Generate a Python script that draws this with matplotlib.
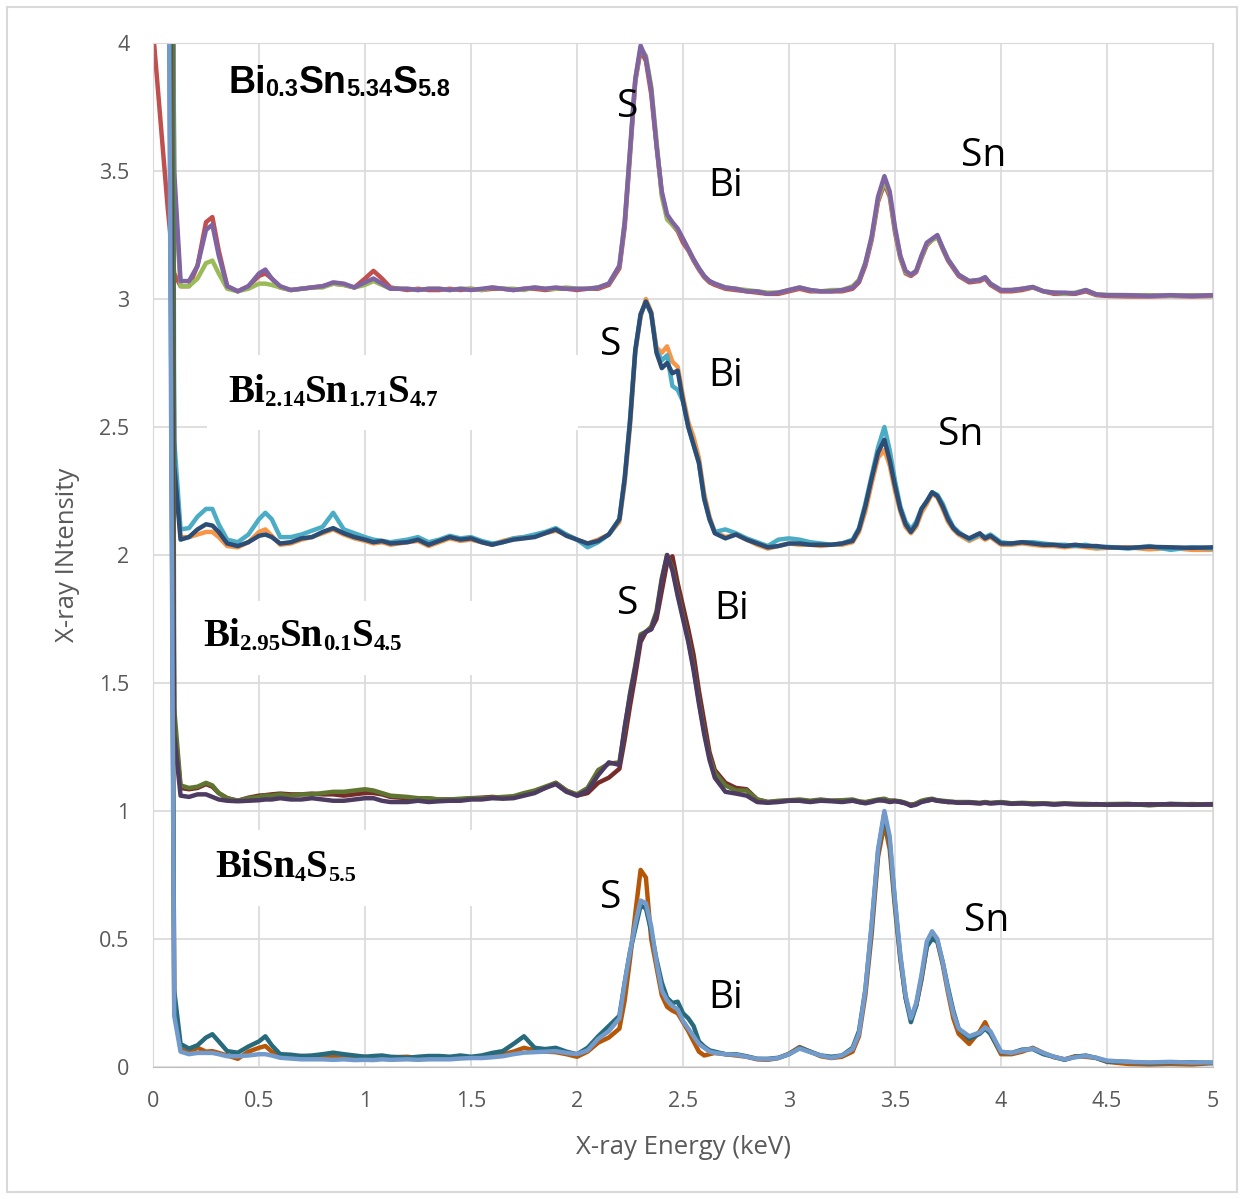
import matplotlib
matplotlib.use('Agg')
import matplotlib.pyplot as plt
from matplotlib.patches import Rectangle
from matplotlib.ticker import FormatStrFormatter
import numpy as np

# energy axis shared by all twelve spectra (keV)
energy = [0.0, 0.07, 0.1, 0.13, 0.17, 0.21, 0.25, 0.28, 0.31, 0.35,
          0.4, 0.45, 0.5, 0.53, 0.56, 0.6, 0.65, 0.7, 0.75, 0.8,
          0.85, 0.9, 0.95, 1.0, 1.04, 1.08, 1.12, 1.2, 1.25, 1.3,
          1.35, 1.4, 1.45, 1.5, 1.55, 1.6, 1.65, 1.7, 1.75, 1.8,
          1.85, 1.9, 1.95, 2.0, 2.05, 2.1, 2.15, 2.2, 2.225, 2.25,
          2.275, 2.3, 2.325, 2.35, 2.375, 2.4, 2.425, 2.45, 2.475, 2.5,
          2.525, 2.55, 2.575, 2.6, 2.625, 2.65, 2.7, 2.75, 2.8, 2.85,
          2.9, 2.95, 3.0, 3.05, 3.1, 3.15, 3.2, 3.25, 3.3, 3.33,
          3.36, 3.39, 3.42, 3.45, 3.475, 3.5, 3.525, 3.55, 3.575, 3.6,
          3.625, 3.65, 3.675, 3.7, 3.725, 3.75, 3.775, 3.8, 3.85, 3.9,
          3.925, 3.95, 4.0, 4.05, 4.1, 4.15, 4.2, 4.25, 4.3, 4.35,
          4.4, 4.45, 4.5, 4.6, 4.7, 4.8, 4.9, 5.0]

# Bi0.3Sn5.34S5.8 (offset +3)
bi03_1 = [4.05, 3.35, 3.1, 3.05, 3.05, 3.13, 3.30, 3.32, 3.19, 3.05,
          3.03, 3.05, 3.09, 3.10, 3.08, 3.045, 3.035, 3.04, 3.045, 3.05,
          3.06, 3.055, 3.045, 3.08, 3.11, 3.08, 3.045, 3.035, 3.04, 3.035,
          3.035, 3.04, 3.035, 3.04, 3.035, 3.04, 3.04, 3.035, 3.04, 3.04,
          3.035, 3.04, 3.04, 3.035, 3.04, 3.04, 3.055, 3.12, 3.28, 3.56,
          3.85, 3.97, 3.93, 3.80, 3.60, 3.41, 3.32, 3.29, 3.265, 3.22,
          3.19, 3.15, 3.115, 3.085, 3.065, 3.055, 3.04, 3.035, 3.03, 3.025,
          3.02, 3.02, 3.03, 3.04, 3.03, 3.03, 3.03, 3.03, 3.04, 3.065,
          3.13, 3.23, 3.38, 3.45, 3.40, 3.26, 3.16, 3.10, 3.09, 3.105,
          3.16, 3.21, 3.23, 3.245, 3.195, 3.15, 3.12, 3.09, 3.065, 3.07,
          3.08, 3.055, 3.03, 3.03, 3.035, 3.045, 3.03, 3.02, 3.02, 3.02,
          3.03, 3.015, 3.012, 3.01, 3.01, 3.012, 3.01, 3.012]
bi03_2 = [12, 9, 3.45, 3.05, 3.05, 3.08, 3.14, 3.15, 3.10, 3.04,
          3.03, 3.04, 3.06, 3.06, 3.055, 3.045, 3.035, 3.04, 3.045, 3.045,
          3.06, 3.055, 3.045, 3.055, 3.07, 3.055, 3.04, 3.04, 3.035, 3.04,
          3.04, 3.035, 3.04, 3.04, 3.035, 3.045, 3.04, 3.04, 3.035, 3.045,
          3.04, 3.04, 3.045, 3.04, 3.04, 3.045, 3.06, 3.13, 3.30, 3.58,
          3.86, 3.98, 3.95, 3.83, 3.62, 3.40, 3.31, 3.29, 3.27, 3.235,
          3.195, 3.155, 3.12, 3.09, 3.07, 3.06, 3.045, 3.04, 3.035, 3.03,
          3.025, 3.025, 3.035, 3.045, 3.035, 3.03, 3.035, 3.035, 3.05, 3.075,
          3.14, 3.24, 3.39, 3.46, 3.41, 3.27, 3.165, 3.105, 3.095, 3.11,
          3.165, 3.215, 3.23, 3.24, 3.20, 3.155, 3.125, 3.095, 3.07, 3.075,
          3.085, 3.06, 3.035, 3.035, 3.04, 3.047, 3.03, 3.025, 3.02, 3.025,
          3.035, 3.018, 3.016, 3.015, 3.015, 3.013, 3.015, 3.014]
bi03_3 = [12, 7, 3.5, 3.07, 3.07, 3.13, 3.27, 3.29, 3.17, 3.05,
          3.03, 3.05, 3.10, 3.115, 3.08, 3.05, 3.035, 3.04, 3.045, 3.05,
          3.065, 3.06, 3.045, 3.065, 3.08, 3.06, 3.04, 3.04, 3.035, 3.04,
          3.04, 3.035, 3.04, 3.035, 3.04, 3.045, 3.04, 3.035, 3.04, 3.045,
          3.04, 3.045, 3.04, 3.04, 3.04, 3.045, 3.06, 3.13, 3.30, 3.58,
          3.86, 3.99, 3.94, 3.82, 3.60, 3.42, 3.33, 3.30, 3.275, 3.235,
          3.195, 3.155, 3.12, 3.09, 3.07, 3.06, 3.045, 3.04, 3.03, 3.03,
          3.02, 3.025, 3.035, 3.045, 3.035, 3.03, 3.03, 3.035, 3.045, 3.07,
          3.14, 3.245, 3.40, 3.48, 3.42, 3.28, 3.17, 3.11, 3.095, 3.11,
          3.17, 3.22, 3.235, 3.25, 3.20, 3.155, 3.125, 3.095, 3.07, 3.075,
          3.085, 3.06, 3.035, 3.035, 3.04, 3.047, 3.03, 3.025, 3.025, 3.022,
          3.035, 3.018, 3.015, 3.015, 3.012, 3.015, 3.012, 3.015]

# Bi2.14Sn1.71S4.7 (offset +2)
bi214_1 = [12, 6, 2.4, 2.07, 2.07, 2.08, 2.09, 2.09, 2.07, 2.035,
           2.03, 2.05, 2.09, 2.10, 2.075, 2.04, 2.045, 2.06, 2.07, 2.085,
           2.10, 2.08, 2.065, 2.055, 2.045, 2.05, 2.04, 2.05, 2.055, 2.035,
           2.05, 2.065, 2.055, 2.06, 2.05, 2.04, 2.055, 2.065, 2.07, 2.075,
           2.085, 2.095, 2.08, 2.06, 2.045, 2.06, 2.08, 2.13, 2.28, 2.50,
           2.79, 2.93, 3.0, 2.95, 2.81, 2.79, 2.815, 2.755, 2.735, 2.62,
           2.52, 2.46, 2.38, 2.24, 2.15, 2.09, 2.07, 2.08, 2.06, 2.04,
           2.025, 2.035, 2.045, 2.04, 2.04, 2.035, 2.04, 2.04, 2.05, 2.09,
           2.17, 2.28, 2.38, 2.41, 2.35, 2.25, 2.17, 2.11, 2.085, 2.11,
           2.165, 2.20, 2.24, 2.225, 2.18, 2.13, 2.10, 2.08, 2.055, 2.075,
           2.06, 2.07, 2.04, 2.04, 2.045, 2.04, 2.035, 2.035, 2.03, 2.035,
           2.03, 2.025, 2.028, 2.03, 2.022, 2.028, 2.02, 2.02]
bi214_2 = [12, 12, 2.45, 2.10, 2.105, 2.15, 2.18, 2.18, 2.12, 2.06,
           2.05, 2.08, 2.14, 2.165, 2.14, 2.07, 2.07, 2.08, 2.095, 2.11,
           2.165, 2.10, 2.085, 2.07, 2.06, 2.055, 2.05, 2.06, 2.07, 2.05,
           2.06, 2.075, 2.065, 2.07, 2.055, 2.045, 2.05, 2.065, 2.07, 2.08,
           2.09, 2.105, 2.08, 2.06, 2.03, 2.05, 2.08, 2.14, 2.30, 2.53,
           2.80, 2.94, 2.99, 2.94, 2.80, 2.76, 2.78, 2.66, 2.645, 2.60,
           2.50, 2.43, 2.36, 2.22, 2.14, 2.09, 2.10, 2.085, 2.065, 2.05,
           2.035, 2.06, 2.065, 2.06, 2.05, 2.045, 2.04, 2.045, 2.06, 2.105,
           2.20, 2.31, 2.42, 2.50, 2.41, 2.29, 2.19, 2.13, 2.10, 2.13,
           2.18, 2.21, 2.245, 2.235, 2.20, 2.15, 2.11, 2.09, 2.06, 2.08,
           2.07, 2.08, 2.05, 2.045, 2.05, 2.05, 2.045, 2.04, 2.04, 2.035,
           2.04, 2.03, 2.032, 2.025, 2.035, 2.02, 2.03, 2.025]
bi214_3 = [12, 8, 2.35, 2.06, 2.07, 2.10, 2.12, 2.115, 2.09, 2.045,
           2.035, 2.05, 2.075, 2.08, 2.07, 2.045, 2.05, 2.065, 2.07, 2.09,
           2.105, 2.085, 2.07, 2.06, 2.05, 2.055, 2.045, 2.05, 2.06, 2.04,
           2.055, 2.07, 2.06, 2.065, 2.05, 2.04, 2.05, 2.06, 2.065, 2.07,
           2.085, 2.10, 2.075, 2.06, 2.045, 2.055, 2.08, 2.14, 2.30, 2.52,
           2.80, 2.94, 2.99, 2.945, 2.79, 2.73, 2.75, 2.71, 2.72, 2.60,
           2.50, 2.43, 2.36, 2.22, 2.14, 2.085, 2.065, 2.08, 2.06, 2.045,
           2.03, 2.035, 2.045, 2.045, 2.04, 2.04, 2.04, 2.045, 2.055, 2.10,
           2.19, 2.30, 2.40, 2.45, 2.37, 2.27, 2.18, 2.12, 2.09, 2.12,
           2.18, 2.21, 2.245, 2.23, 2.19, 2.14, 2.105, 2.085, 2.065, 2.085,
           2.065, 2.075, 2.045, 2.045, 2.05, 2.045, 2.04, 2.04, 2.035, 2.04,
           2.035, 2.035, 2.03, 2.028, 2.032, 2.03, 2.028, 2.03]

# Bi2.95Sn0.1S4.5 (offset +1)
bi295_1 = [12, 7, 1.35, 1.09, 1.085, 1.09, 1.105, 1.095, 1.07, 1.05,
           1.04, 1.052, 1.06, 1.062, 1.065, 1.068, 1.065, 1.065, 1.068, 1.065,
           1.065, 1.06, 1.065, 1.07, 1.07, 1.065, 1.055, 1.05, 1.05, 1.048,
           1.045, 1.045, 1.045, 1.05, 1.052, 1.055, 1.052, 1.055, 1.065, 1.075,
           1.09, 1.11, 1.08, 1.06, 1.07, 1.11, 1.13, 1.165, 1.28, 1.41,
           1.53, 1.66, 1.70, 1.71, 1.75, 1.86, 1.97, 1.995, 1.89, 1.80,
           1.71, 1.61, 1.47, 1.35, 1.23, 1.16, 1.11, 1.09, 1.085, 1.045,
           1.035, 1.038, 1.04, 1.04, 1.038, 1.042, 1.04, 1.04, 1.042, 1.035,
           1.032, 1.038, 1.042, 1.045, 1.04, 1.04, 1.035, 1.03, 1.025, 1.028,
           1.038, 1.04, 1.045, 1.04, 1.038, 1.035, 1.035, 1.032, 1.032, 1.03,
           1.033, 1.03, 1.033, 1.03, 1.03, 1.028, 1.03, 1.026, 1.028, 1.027,
           1.026, 1.025, 1.026, 1.025, 1.026, 1.025, 1.027, 1.025]
bi295_2 = [12, 12, 1.4, 1.10, 1.09, 1.095, 1.11, 1.10, 1.07, 1.05,
           1.04, 1.05, 1.055, 1.06, 1.06, 1.065, 1.06, 1.065, 1.065, 1.07,
           1.075, 1.075, 1.08, 1.085, 1.08, 1.07, 1.06, 1.055, 1.05, 1.05,
           1.045, 1.045, 1.048, 1.05, 1.05, 1.052, 1.055, 1.058, 1.07, 1.08,
           1.095, 1.11, 1.08, 1.065, 1.09, 1.16, 1.185, 1.19, 1.32, 1.46,
           1.57, 1.69, 1.70, 1.72, 1.78, 1.91, 2.00, 1.95, 1.85, 1.76,
           1.67, 1.56, 1.43, 1.31, 1.21, 1.15, 1.10, 1.08, 1.08, 1.045,
           1.035, 1.04, 1.042, 1.045, 1.04, 1.045, 1.04, 1.042, 1.045, 1.038,
           1.035, 1.04, 1.045, 1.048, 1.04, 1.04, 1.038, 1.032, 1.022, 1.03,
           1.04, 1.045, 1.048, 1.042, 1.04, 1.038, 1.035, 1.035, 1.035, 1.032,
           1.035, 1.032, 1.035, 1.03, 1.032, 1.03, 1.03, 1.028, 1.03, 1.028,
           1.028, 1.026, 1.027, 1.028, 1.022, 1.028, 1.026, 1.027]
bi295_3 = [12, 6, 1.3, 1.06, 1.055, 1.065, 1.065, 1.055, 1.045, 1.04,
           1.038, 1.04, 1.042, 1.045, 1.045, 1.05, 1.045, 1.045, 1.05, 1.045,
           1.04, 1.04, 1.045, 1.05, 1.05, 1.04, 1.035, 1.035, 1.04, 1.035,
           1.038, 1.04, 1.04, 1.045, 1.045, 1.05, 1.048, 1.05, 1.06, 1.07,
           1.09, 1.105, 1.075, 1.06, 1.08, 1.14, 1.19, 1.18, 1.33, 1.45,
           1.56, 1.68, 1.70, 1.71, 1.77, 1.90, 2.00, 1.94, 1.84, 1.75,
           1.66, 1.55, 1.42, 1.30, 1.20, 1.13, 1.075, 1.068, 1.06, 1.035,
           1.032, 1.035, 1.04, 1.04, 1.035, 1.04, 1.038, 1.035, 1.04, 1.035,
           1.03, 1.035, 1.042, 1.04, 1.035, 1.038, 1.035, 1.03, 1.02, 1.025,
           1.035, 1.04, 1.045, 1.04, 1.038, 1.035, 1.035, 1.032, 1.033, 1.03,
           1.032, 1.03, 1.032, 1.028, 1.03, 1.026, 1.028, 1.025, 1.028, 1.026,
           1.025, 1.027, 1.024, 1.026, 1.025, 1.027, 1.024, 1.026]

# BiSn4S5.5 (no offset)
bisn4_1 = [12, 6, 0.25, 0.07, 0.055, 0.075, 0.06, 0.062, 0.055, 0.045,
           0.032, 0.06, 0.075, 0.082, 0.06, 0.045, 0.04, 0.043, 0.04, 0.038,
           0.04, 0.035, 0.038, 0.04, 0.036, 0.04, 0.038, 0.04, 0.035, 0.038,
           0.04, 0.038, 0.04, 0.036, 0.04, 0.045, 0.05, 0.06, 0.075, 0.065,
           0.06, 0.058, 0.05, 0.04, 0.06, 0.095, 0.115, 0.15, 0.26, 0.42,
           0.60, 0.77, 0.74, 0.50, 0.39, 0.28, 0.235, 0.22, 0.21, 0.175,
           0.14, 0.10, 0.06, 0.045, 0.05, 0.055, 0.05, 0.045, 0.04, 0.03,
           0.028, 0.035, 0.052, 0.078, 0.06, 0.042, 0.035, 0.04, 0.06, 0.12,
           0.28, 0.52, 0.82, 0.95, 0.85, 0.62, 0.42, 0.27, 0.19, 0.24,
           0.34, 0.47, 0.52, 0.49, 0.40, 0.29, 0.19, 0.13, 0.09, 0.14,
           0.175, 0.13, 0.05, 0.05, 0.06, 0.075, 0.055, 0.038, 0.03, 0.042,
           0.04, 0.035, 0.02, 0.012, 0.01, 0.012, 0.01, 0.015]
bisn4_2 = [12, 5.5, 0.3, 0.09, 0.072, 0.085, 0.115, 0.128, 0.10, 0.062,
           0.056, 0.08, 0.10, 0.12, 0.085, 0.05, 0.048, 0.043, 0.045, 0.05,
           0.056, 0.05, 0.045, 0.04, 0.043, 0.045, 0.04, 0.036, 0.04, 0.043,
           0.043, 0.04, 0.045, 0.04, 0.045, 0.055, 0.062, 0.09, 0.12, 0.075,
           0.07, 0.075, 0.06, 0.05, 0.075, 0.12, 0.16, 0.20, 0.33, 0.45,
           0.54, 0.63, 0.62, 0.53, 0.42, 0.33, 0.27, 0.25, 0.255, 0.21,
           0.19, 0.16, 0.10, 0.08, 0.065, 0.06, 0.05, 0.05, 0.042, 0.032,
           0.032, 0.036, 0.05, 0.075, 0.06, 0.045, 0.04, 0.045, 0.075, 0.14,
           0.30, 0.55, 0.84, 0.99, 0.88, 0.64, 0.43, 0.27, 0.175, 0.24,
           0.35, 0.47, 0.50, 0.49, 0.41, 0.31, 0.22, 0.15, 0.11, 0.13,
           0.15, 0.13, 0.058, 0.055, 0.068, 0.07, 0.05, 0.04, 0.028, 0.04,
           0.045, 0.035, 0.022, 0.02, 0.015, 0.018, 0.018, 0.016]
bisn4_3 = [12, 5, 0.2, 0.06, 0.05, 0.055, 0.055, 0.055, 0.05, 0.042,
           0.042, 0.045, 0.05, 0.05, 0.045, 0.036, 0.033, 0.03, 0.03, 0.03,
           0.028, 0.03, 0.027, 0.028, 0.027, 0.03, 0.028, 0.03, 0.028, 0.03,
           0.03, 0.03, 0.033, 0.035, 0.035, 0.038, 0.042, 0.05, 0.056, 0.058,
           0.06, 0.062, 0.055, 0.05, 0.065, 0.11, 0.14, 0.19, 0.33, 0.45,
           0.56, 0.65, 0.64, 0.55, 0.41, 0.30, 0.26, 0.238, 0.225, 0.18,
           0.15, 0.12, 0.09, 0.075, 0.06, 0.055, 0.05, 0.048, 0.04, 0.032,
           0.03, 0.035, 0.05, 0.072, 0.058, 0.045, 0.036, 0.045, 0.07, 0.13,
           0.30, 0.56, 0.85, 1.0, 0.90, 0.65, 0.44, 0.28, 0.19, 0.25,
           0.36, 0.49, 0.53, 0.50, 0.41, 0.30, 0.21, 0.15, 0.12, 0.135,
           0.155, 0.14, 0.06, 0.055, 0.065, 0.072, 0.055, 0.04, 0.03, 0.038,
           0.043, 0.036, 0.025, 0.02, 0.018, 0.02, 0.017, 0.018]

spectra = [
    (bi03_1, '#C0504D'), (bi03_2, '#9BBB59'), (bi03_3, '#8064A2'),
    (bi214_1, '#F79646'), (bi214_2, '#4BACC6'), (bi214_3, '#2C4D75'),
    (bi295_1, '#772C2A'), (bi295_2, '#5F7530'), (bi295_3, '#4D3B62'),
    (bisn4_1, '#B65708'), (bisn4_2, '#276A7C'), (bisn4_3, '#729ACA'),
]

# peak labels: (text, energy, intensity)
peak_labels = [
    ('S', 2.24, 3.75), ('Bi', 2.70, 3.44), ('Sn', 3.92, 3.56),
    ('S', 2.16, 2.82), ('Bi', 2.70, 2.70), ('Sn', 3.81, 2.47),
    ('S', 2.24, 1.81), ('Bi', 2.73, 1.79),
    ('S', 2.16, 0.66), ('Bi', 2.70, 0.27), ('Sn', 3.93, 0.57),
]

plt.rcParams['font.family'] = ['Open Sans', 'DejaVu Sans']

fig = plt.figure(figsize=(12.44, 11.99), dpi=100)
ax = fig.add_axes([153 / 1244, 1 - 1067 / 1199, 1060 / 1244, 1024 / 1199])

for ys, col in spectra:
    ax.plot(energy, ys, color=col, lw=3.2, solid_joinstyle='round', zorder=2)

ax.set_xlim(0, 5)
ax.set_ylim(0, 4)
ax.set_xticks(np.arange(0, 5.01, 0.5))
ax.set_yticks(np.arange(0, 4.01, 0.5))
ax.xaxis.set_major_formatter(FormatStrFormatter('%g'))
ax.yaxis.set_major_formatter(FormatStrFormatter('%g'))
ax.grid(True, color='#D9D9D9', lw=1.2)
ax.set_axisbelow(True)
for sp in ax.spines.values():
    sp.set_color('#D9D9D9')
ax.spines['bottom'].set_color('#BFBFBF')
ax.tick_params(length=0, pad=17, labelsize=15.5, labelcolor='#595959')

# white patches behind the sample names
for x0, y0, w, h in [(0.255, 2.49, 1.75, 0.29), (0.2, 1.53, 1.7, 0.29), (0.2, 0.63, 1.7, 0.295)]:
    ax.add_patch(Rectangle((x0, y0), w, h, facecolor='white', edgecolor='none', zorder=1))


def formula(x, y, pieces, family, big, small):
    # chain text pieces left to right, subscripts in a smaller size
    prev = ax.text(x, y, pieces[0], fontsize=big, family=family, weight='bold',
                   ha='left', va='baseline', zorder=5)
    for i, s in enumerate(pieces[1:], start=1):
        size = small if i % 2 else big
        prev = ax.annotate(s, xy=(1, 0), xycoords=prev, fontsize=size, family=family,
                           weight='bold', ha='left', va='bottom', zorder=5)


formula(0.354, 3.805, ['Bi', '0.3', 'Sn', '5.34', 'S', '5.8'], 'Liberation Sans', 27, 17)
formula(0.354, 2.598, ['Bi', '2.14', 'Sn', '1.71', 'S', '4.7'], 'Liberation Serif', 28, 16.5)
formula(0.236, 1.645, ['Bi', '2.95', 'Sn', '0.1', 'S', '4.5'], 'Liberation Serif', 28, 16.5)
formula(0.292, 0.742, ['BiSn', '4', 'S', '5.5'], 'Liberation Serif', 28, 16)

for txt, xe, yi in peak_labels:
    ax.text(xe, yi, txt, fontsize=28, ha='center', va='center', zorder=5)

fig.text(683 / 1244, 1 - 1147 / 1199, 'X-ray Energy (keV)', fontsize=18.5,
         color='#595959', ha='center', va='center')
fig.text(68 / 1244, 1 - 555 / 1199, 'X-ray INtensity', fontsize=18.5,
         color='#595959', ha='center', va='center', rotation=90)

fig.patches.append(Rectangle((7 / 1244, 7 / 1199), 1 - 14 / 1244, 1 - 14 / 1199,
                             transform=fig.transFigure, fill=False,
                             edgecolor='#D9D9D9', lw=1.5))

fig.savefig('out.png', dpi=100)
